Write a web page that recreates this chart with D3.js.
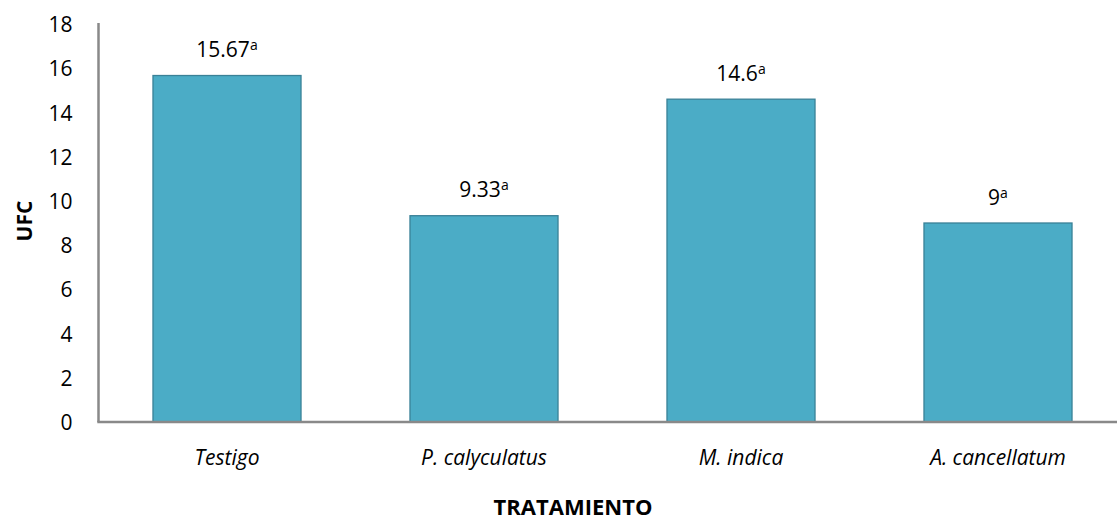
<!DOCTYPE html>
<html>
<head>
<meta charset="utf-8">
<script src="https://cdn.jsdelivr.net/npm/d3@7"></script>
<style>
  html, body { margin: 0; padding: 0; background: #fff; }
  svg { display: block; }
  text { font-family: "Open Sans", "Noto Sans", sans-serif; fill: #000; }
</style>
</head>
<body>
<svg id="chart" width="1117" height="521"></svg>
<script>
// Treatments and colony counts (UFC)
const categories = ["Testigo", "P. calyculatus", "M. indica", "A. cancellatum"];
const values = [15.67, 9.33, 14.6, 9];
const valueLabels = ["15.67", "9.33", "14.6", "9"];
const letters = ["a", "a", "a", "a"];
const yTicks = [0, 2, 4, 6, 8, 10, 12, 14, 16, 18];

const FONT = "'Open Sans', 'Noto Sans', sans-serif";
const svg = d3.select("#chart");
const plotLeft = 98.5, plotRight = 1126.5, plotTop = 23, plotBottom = 422;

const x = d3.scaleBand().domain(categories).range([plotLeft, plotRight]).paddingInner(0.424).paddingOuter(0.212);
const y = d3.scaleLinear().domain([0, 18]).range([plotBottom, plotTop + 1]);

// Bars
svg.append("g").selectAll("rect")
  .data(categories)
  .join("rect")
  .attr("x", d => x(d))
  .attr("y", (d, i) => y(values[i]))
  .attr("width", x.bandwidth())
  .attr("height", (d, i) => y(0) - y(values[i]))
  .attr("fill", "#4BACC6")
  .attr("stroke", "#3A8197")
  .attr("stroke-width", 1.3);

// Y axis
const yAxis = svg.append("g")
  .attr("transform", `translate(${plotLeft},0)`)
  .call(d3.axisLeft(y).tickValues(yTicks).tickSize(0).tickPadding(26));
yAxis.select(".domain").attr("stroke", "#898989").attr("stroke-width", 2.5)
  .attr("d", `M0,${plotTop}V${plotBottom}`);
yAxis.selectAll("text").attr("font-size", 21).attr("font-family", FONT).attr("dy", "0.36em");

// X axis
const xAxis = svg.append("g")
  .attr("transform", `translate(0,${plotBottom})`)
  .call(d3.axisBottom(x).tickSize(0).tickPadding(28));
xAxis.select(".domain").attr("stroke", "#898989").attr("stroke-width", 2.5)
  .attr("d", `M${plotLeft - 1.2},0H${plotRight}`);
xAxis.selectAll("text").attr("font-size", 21).attr("font-style", "italic")
  .attr("font-family", FONT);

// Value labels with significance letters
const lbl = svg.append("g").selectAll("text")
  .data(categories)
  .join("text")
  .attr("x", d => x(d) + x.bandwidth() / 2)
  .attr("y", (d, i) => y(values[i]) - 18.5)
  .attr("text-anchor", "middle")
  .attr("font-size", 21);
lbl.append("tspan").text((d, i) => valueLabels[i]);
lbl.append("tspan").attr("font-size", 14).attr("dy", -7).text((d, i) => letters[i]);

// Axis titles
svg.append("text")
  .attr("x", 573).attr("y", 515)
  .attr("text-anchor", "middle")
  .attr("font-size", 22).attr("font-weight", "bold")
  .text("TRATAMIENTO");

svg.append("text")
  .attr("transform", "translate(31.5,221) rotate(-90)")
  .attr("text-anchor", "middle")
  .attr("font-size", 21).attr("font-weight", "bold")
  .text("UFC");
</script>
</body>
</html>
